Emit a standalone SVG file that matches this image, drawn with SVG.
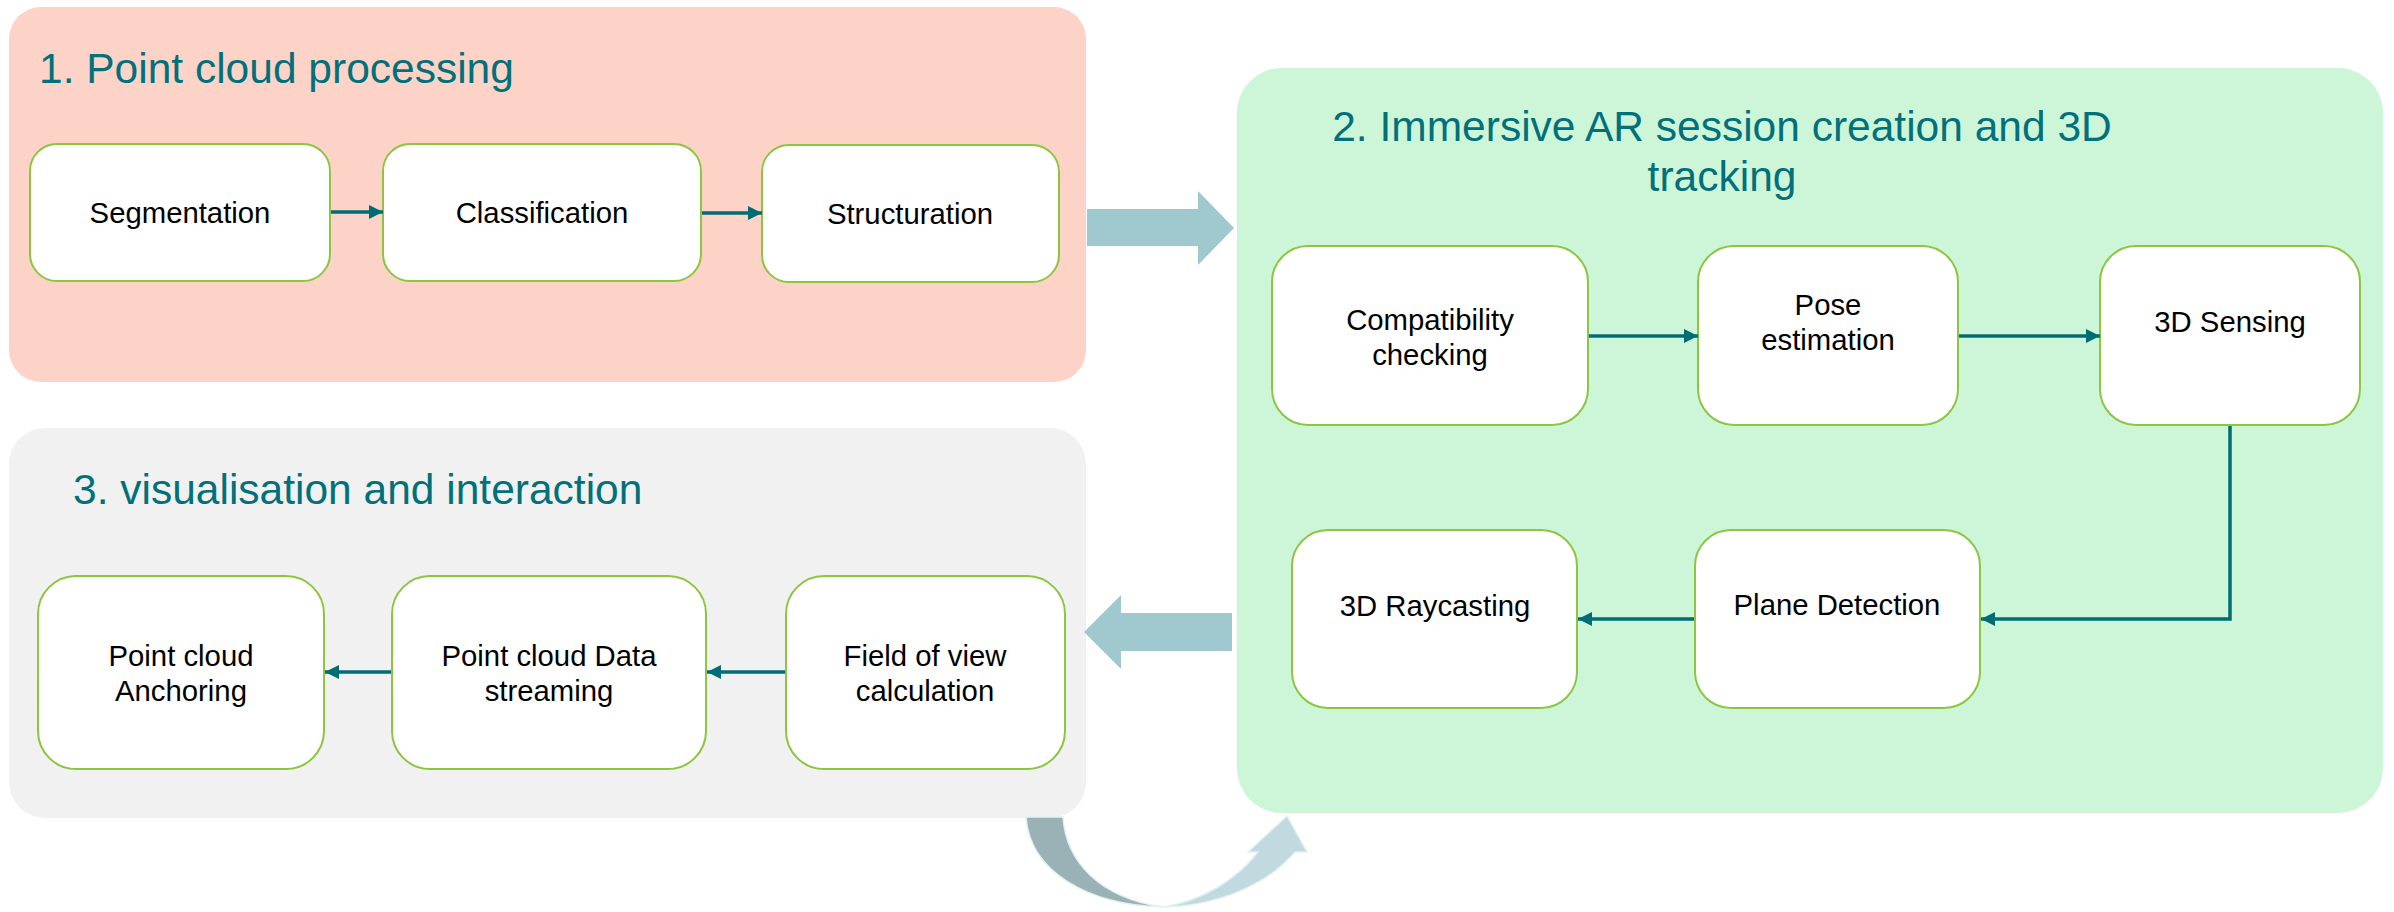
<svg xmlns="http://www.w3.org/2000/svg" width="2394" height="912" viewBox="0 0 2394 912">
<defs>
<marker id="ah" viewBox="0 0 10 10" refX="10" refY="5" markerWidth="14" markerHeight="15" markerUnits="userSpaceOnUse" orient="auto">
<path d="M0,0 L10,5 L0,10 z" fill="#006D75"/>
</marker>
</defs>
<style>
.box{fill:#ffffff;stroke:#8CC63F;stroke-width:2}
.lbl{font-family:"Liberation Sans",Arial,sans-serif;font-size:29.3px;fill:#000000;text-anchor:middle}
.ttl{font-family:"Liberation Sans",Arial,sans-serif;font-size:42.5px;fill:#00717A}
.conn{fill:none;stroke:#006D75;stroke-width:3.5;marker-end:url(#ah)}
.big{fill:#A0C8CF}
</style>
<rect width="2394" height="912" fill="#ffffff"/>

<g id="panel1">
<rect x="9" y="7" width="1077" height="375" rx="32" fill="#FDD3C8"/>
<text class="ttl" x="39" y="83">1. Point cloud processing</text>
</g>
<g id="panel2">
<rect x="1237" y="68" width="1146" height="745" rx="45" fill="#CDF6D8"/>
<text class="ttl" x="1722" y="141" text-anchor="middle">2. Immersive AR session creation and 3D</text>
<text class="ttl" x="1722" y="191" text-anchor="middle">tracking</text>
</g>
<g id="panel3">
<rect x="9" y="428" width="1077" height="390" rx="36" fill="#F1F1F1"/>
<text class="ttl" x="73" y="504">3. visualisation and interaction</text>
</g>

<g id="bigarrows">
<polygon class="big" points="1087,209 1198,209 1198,191 1234,228 1198,265 1198,246 1087,246"/>
<polygon class="big" points="1232,613 1121,613 1121,595 1084,632 1121,669 1121,651 1232,651"/>
<path d="M1026,817 C1030,872 1088,905 1163,907 C1100,898 1066,862 1063,817 Z" fill="#9AB2B5" stroke="#E3F0F2" stroke-width="1.5"/>
<path d="M1163,907 C1218,906 1268,884 1295,852 L1307,852 L1287,816 L1248,852 L1258,852 C1236,880 1202,901 1163,907 Z" fill="#C0DADF" stroke="#E3F0F2" stroke-width="1.5"/>
</g>

<g id="segmentation">
<rect class="box" x="30" y="144" width="300" height="137" rx="27"/>
<text class="lbl" x="180" y="223">Segmentation</text>
</g>
<g id="classification">
<rect class="box" x="383" y="144" width="318" height="137" rx="27"/>
<text class="lbl" x="542" y="223">Classification</text>
</g>
<g id="structuration">
<rect class="box" x="762" y="145" width="297" height="137" rx="27"/>
<text class="lbl" x="910" y="224">Structuration</text>
</g>

<g id="compatibility">
<rect class="box" x="1272" y="246" width="316" height="179" rx="36"/>
<text class="lbl" x="1430" y="330">Compatibility</text>
<text class="lbl" x="1430" y="365">checking</text>
</g>
<g id="pose">
<rect class="box" x="1698" y="246" width="260" height="179" rx="36"/>
<text class="lbl" x="1828" y="315">Pose</text>
<text class="lbl" x="1828" y="350">estimation</text>
</g>
<g id="sensing">
<rect class="box" x="2100" y="246" width="260" height="179" rx="36"/>
<text class="lbl" x="2230" y="332">3D Sensing</text>
</g>
<g id="plane">
<rect class="box" x="1695" y="530" width="285" height="178" rx="36"/>
<text class="lbl" x="1837" y="615">Plane Detection</text>
</g>
<g id="raycasting">
<rect class="box" x="1292" y="530" width="285" height="178" rx="36"/>
<text class="lbl" x="1435" y="616">3D Raycasting</text>
</g>

<g id="anchoring">
<rect class="box" x="38" y="576" width="286" height="193" rx="38"/>
<text class="lbl" x="181" y="666">Point cloud</text>
<text class="lbl" x="181" y="701">Anchoring</text>
</g>
<g id="streaming">
<rect class="box" x="392" y="576" width="314" height="193" rx="38"/>
<text class="lbl" x="549" y="666">Point cloud Data</text>
<text class="lbl" x="549" y="701">streaming</text>
</g>
<g id="fov">
<rect class="box" x="786" y="576" width="279" height="193" rx="38"/>
<text class="lbl" x="925" y="666">Field of view</text>
<text class="lbl" x="925" y="701">calculation</text>
</g>

<g id="connectors">
<path class="conn" d="M331,212 L383,212"/>
<path class="conn" d="M702,213 L762,213"/>
<path class="conn" d="M1589,336 L1698,336"/>
<path class="conn" d="M1959,336 L2100,336"/>
<path class="conn" d="M2230,426 L2230,619 L1981,619"/>
<path class="conn" d="M1694,619 L1578,619"/>
<path class="conn" d="M785,672 L707,672"/>
<path class="conn" d="M391,672 L325,672"/>
</g>
</svg>
